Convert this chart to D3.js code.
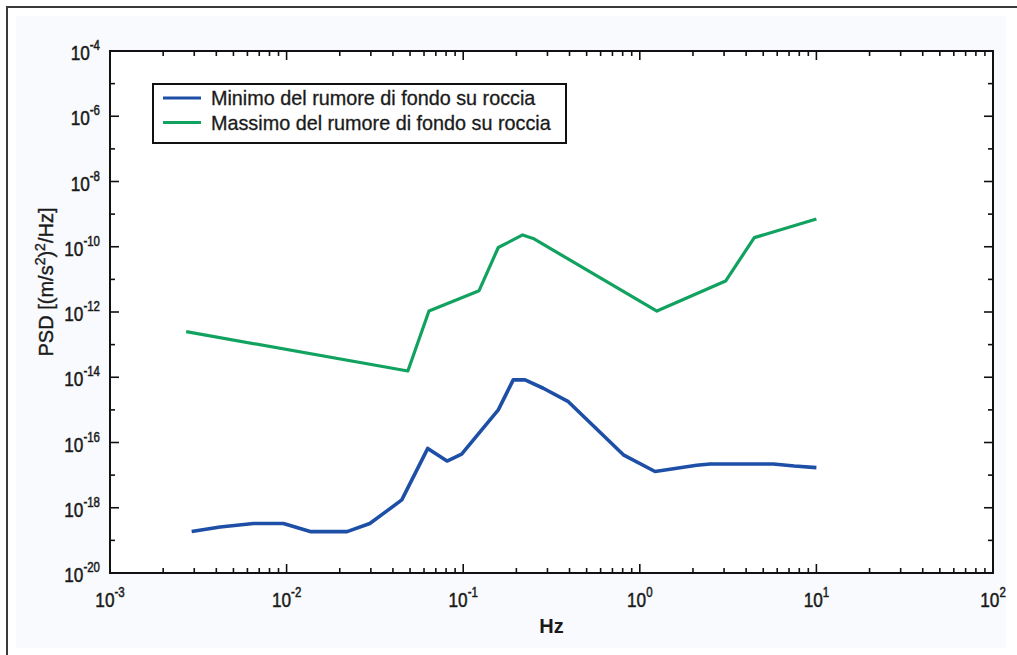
<!DOCTYPE html>
<html>
<head>
<meta charset="utf-8">
<script src="https://cdn.jsdelivr.net/npm/d3@7"></script>
<style>
  html, body { margin: 0; padding: 0; background: #ffffff; }
  svg { display: block; font-family: "Liberation Sans", Arial, Helvetica, sans-serif; }
</style>
</head>
<body>
<svg id="chart" width="1017" height="655"></svg>
<script>
// Minimum background noise on rock (Hz, PSD in (m/s^2)^2/Hz)
const freqMin = [0.0029, 0.0042, 0.0065, 0.0096, 0.0136, 0.022, 0.0296, 0.037, 0.0449,
                 0.063, 0.081, 0.098, 0.158, 0.192, 0.224, 0.284, 0.394, 0.807,
                 1.22, 2.10, 2.5, 5.7, 7.5, 10];
const psdMin  = [1.86e-19, 2.57e-19, 3.3e-19, 3.3e-19, 1.86e-19, 1.86e-19, 3.3e-19, 8.0e-19, 1.74e-18,
                 6.6e-17, 2.7e-17, 4.4e-17, 1.0e-15, 8.3e-15, 8.3e-15, 4.6e-15, 1.78e-15, 4.2e-17,
                 1.29e-17, 2.0e-17, 2.2e-17, 2.2e-17, 1.9e-17, 1.7e-17];

// Maximum background noise on rock
const freqMax = [0.0027, 0.0486, 0.064, 0.123, 0.158, 0.217, 0.249, 1.25, 3.06, 4.45, 10];
const psdMax  = [2.5e-13, 1.55e-14, 1.07e-12, 4.5e-12, 9.5e-11, 2.3e-10, 1.8e-10, 1.07e-12, 8.9e-12, 1.9e-10, 7.1e-10];

const seriesNames = ["Minimo del rumore di fondo su roccia", "Massimo del rumore di fondo su roccia"];
const seriesColors = ["#1d4fa6", "#12a260"];

const xTickExps = [-3, -2, -1, 0, 1, 2];
const yTickExps = [-20, -18, -16, -14, -12, -10, -8, -6, -4];

const svg = d3.select("#chart");
const W = 1017, H = 655;
const plot = { left: 110, right: 993, top: 51, bottom: 573 };
const ink = "#1a1a1a";

// page frame and soft panel
svg.append("rect").attr("x", 0).attr("y", 0).attr("width", W).attr("height", H).attr("fill", "#ffffff");
svg.append("rect").attr("x", 16).attr("y", 16).attr("width", 990).attr("height", 632).attr("fill", "#f9fafd");
svg.append("path").attr("d", `M7,${H} L7,7 L${W},7`).attr("fill", "none").attr("stroke", "#3a3a3a").attr("stroke-width", 2);

const x = d3.scaleLog().domain([1e-3, 1e2]).range([plot.left, plot.right]);
const y = d3.scaleLog().domain([1e-20, 1e-4]).range([plot.bottom, plot.top]);

// plot background
svg.append("rect")
  .attr("x", plot.left).attr("y", plot.top)
  .attr("width", plot.right - plot.left).attr("height", plot.bottom - plot.top)
  .attr("fill", "#ffffff");

const ticks = svg.append("g").attr("stroke", "#111").attr("stroke-width", 1.6);

// x ticks: decades long, 2..9 short, drawn inward on bottom and top
for (let e = -3; e < 2; e++) {
  for (let m = 1; m <= 9; m++) {
    const v = m * Math.pow(10, e);
    const px = x(v);
    const len = m === 1 ? 9 : 5;
    ticks.append("line").attr("x1", px).attr("x2", px).attr("y1", plot.bottom).attr("y2", plot.bottom - len);
    ticks.append("line").attr("x1", px).attr("x2", px).attr("y1", plot.top).attr("y2", plot.top + len);
  }
}
// y ticks at every decade, labelled ones longer
for (let e = -20; e <= -4; e++) {
  const py = y(Math.pow(10, e));
  const len = (e % 2 === 0) ? 9 : 5;
  ticks.append("line").attr("x1", plot.left).attr("x2", plot.left + len).attr("y1", py).attr("y2", py);
  ticks.append("line").attr("x1", plot.right).attr("x2", plot.right - len).attr("y1", py).attr("y2", py);
}

// frame of axes
svg.append("rect")
  .attr("x", plot.left).attr("y", plot.top)
  .attr("width", plot.right - plot.left).attr("height", plot.bottom - plot.top)
  .attr("fill", "none").attr("stroke", "#111").attr("stroke-width", 2);

// tick labels as 10 with superscript exponent
function powerLabel(g, exp, anchor) {
  const t = g.append("text")
    .attr("text-anchor", anchor)
    .attr("font-size", 21)
    .attr("fill", ink).attr("stroke", ink).attr("stroke-width", 0.5);
  t.append("tspan").text("10");
  t.append("tspan").attr("dy", -10).attr("font-size", 14).text(String(exp));
  return t;
}

xTickExps.forEach(e => {
  const g = svg.append("g").attr("transform", `translate(${x(Math.pow(10, e))},607) scale(0.82,1)`);
  powerLabel(g, e, "middle");
});
yTickExps.forEach(e => {
  const g = svg.append("g").attr("transform", `translate(100,${y(Math.pow(10, e)) + 9}) scale(0.82,1)`);
  powerLabel(g, e, "end");
});

// axis titles
svg.append("text")
  .attr("x", (plot.left + plot.right) / 2).attr("y", 633)
  .attr("text-anchor", "middle").attr("font-size", 20).attr("font-weight", "bold")
  .attr("fill", ink).text("Hz");

const yt = svg.append("text")
  .attr("transform", "translate(53,282) rotate(-90)")
  .attr("text-anchor", "middle").attr("font-size", 20)
  .attr("fill", ink).attr("stroke", ink).attr("stroke-width", 0.4);
yt.append("tspan").text("PSD [(m/s");
yt.append("tspan").attr("dy", -8).attr("font-size", 14).text("2");
yt.append("tspan").attr("dy", 8).text(")");
yt.append("tspan").attr("dy", -8).attr("font-size", 14).text("2");
yt.append("tspan").attr("dy", 8).text("/Hz]");

// curves
const line = d3.line().x(d => x(d[0])).y(d => y(d[1]));
const minData = freqMin.map((f, i) => [f, psdMin[i]]);
const maxData = freqMax.map((f, i) => [f, psdMax[i]]);

svg.append("path").datum(maxData).attr("d", line)
  .attr("fill", "none").attr("stroke", seriesColors[1]).attr("stroke-width", 3.2)
  .attr("stroke-linejoin", "round");
svg.append("path").datum(minData).attr("d", line)
  .attr("fill", "none").attr("stroke", seriesColors[0]).attr("stroke-width", 3.6)
  .attr("stroke-linejoin", "round");

// legend
const lg = svg.append("g");
lg.append("rect").attr("x", 153).attr("y", 84).attr("width", 413).attr("height", 59)
  .attr("fill", "#ffffff").attr("stroke", "#111").attr("stroke-width", 2);
seriesNames.forEach((name, i) => {
  const ly = 98 + i * 24.5;
  lg.append("line").attr("x1", 163).attr("x2", 201).attr("y1", ly).attr("y2", ly)
    .attr("stroke", seriesColors[i]).attr("stroke-width", 3);
  lg.append("text").attr("x", 211).attr("y", ly + 7).attr("font-size", 19.8)
    .attr("fill", ink).attr("stroke", ink).attr("stroke-width", 0.3).text(name);
});
</script>
</body>
</html>
